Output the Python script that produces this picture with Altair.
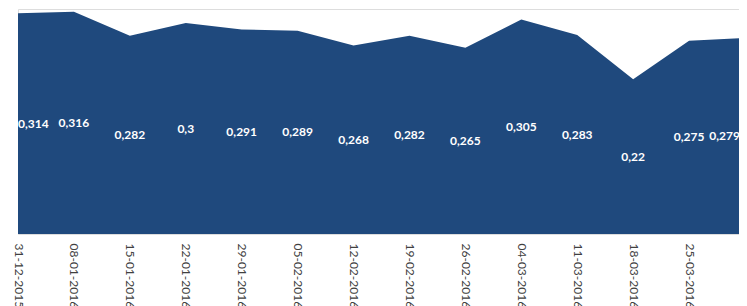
import altair as alt
import pandas as pd

dates = ["31-12-2015", "08-01-2016", "15-01-2016", "22-01-2016", "29-01-2016",
         "05-02-2016", "12-02-2016", "19-02-2016", "26-02-2016", "04-03-2016",
         "11-03-2016", "18-03-2016", "25-03-2016", "31-03-2016"]
values = [0.314, 0.316, 0.282, 0.3, 0.291, 0.289, 0.268, 0.282, 0.265,
          0.305, 0.283, 0.22, 0.275, 0.279]
labels = ["0,314", "0,316", "0,282", "0,3", "0,291", "0,289", "0,268", "0,282",
          "0,265", "0,305", "0,283", "0,22", "0,275", "0,279"]

df = pd.DataFrame({"date": dates, "value": values, "label": labels,
                   "idx": list(range(len(dates)))})
df["half"] = df["value"] / 2

x_scale = alt.Scale(type="point", padding=0, range=[0, 727])
x = alt.X("date:O", sort=dates, scale=x_scale,
          axis=alt.Axis(title=None, labelAngle=90, ticks=False, domain=False,
                        labelPadding=9, labelFont="Lato", labelFontSize=12,
                        labelColor="#404040", grid=False))
y_scale = alt.Scale(domain=[0, 0.32])

area = alt.Chart(df).mark_area(color="#1F497D", opacity=1).encode(
    x=x,
    y=alt.Y("value:Q", scale=y_scale, axis=None),
)

def text_layer(filt, align, dx=0):
    return alt.Chart(df).transform_filter(filt).mark_text(
        color="white", font="Lato", fontWeight="bold", fontSize=12,
        align=align, baseline="middle", dx=dx
    ).encode(
        x=alt.X("date:O", sort=dates, scale=x_scale),
        y=alt.Y("half:Q", scale=y_scale),
        text="label:N",
    )

first = text_layer(alt.datum.idx == 0, "left")
middle = text_layer((alt.datum.idx > 0) & (alt.datum.idx < len(dates) - 1), "center")
last = text_layer(alt.datum.idx == len(dates) - 1, "right", dx=-5)

chart = alt.layer(area, first, middle, last).properties(
    width=721, height=225,
    autosize=alt.AutoSizeParams(type="none"),
    padding={"left": 10, "top": 1, "right": 0, "bottom": 72},
).configure_view(stroke=None).configure(background="white")

chart.save("out.html", embed_options={"renderer": "svg", "actions": False})
